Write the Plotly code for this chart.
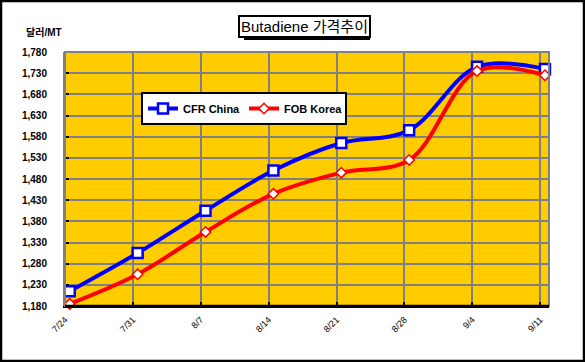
import numpy as np
import plotly.graph_objects as go

dates = ["7/24", "7/31", "8/7", "8/14", "8/21", "8/28", "9/4", "9/11"]
cfr_china = [1215, 1305, 1405, 1500, 1565, 1595, 1745, 1740]
fob_korea = [1185, 1255, 1355, 1445, 1495, 1525, 1735, 1725]
y_ticks = list(range(1180, 1781, 50))

W, H = 585, 362
L, R, T, B = 65, 36, 52, 56
pw, ph = W - L - R, H - T - B

def px_x(p):
    return (p - L) / pw

def px_y(p):
    return (H - B - p) / ph

FONT = "Arial, 'Liberation Sans', 'Noto Sans CJK KR', sans-serif"
idx = np.arange(len(dates))
xpos = idx + 0.07

fig = go.Figure()
fig.add_trace(go.Scatter(
    x=xpos, y=cfr_china, name="CFR China", mode="lines+markers",
    line=dict(color="#0000FF", width=4, shape="spline", smoothing=1.0),
    marker=dict(symbol="square", size=10, color="white",
                line=dict(color="#0000FF", width=2.5)),
    cliponaxis=False,
))
fig.add_trace(go.Scatter(
    x=xpos, y=fob_korea, name="FOB Korea", mode="lines+markers",
    line=dict(color="#FF0000", width=4, shape="spline", smoothing=1.0),
    marker=dict(symbol="diamond", size=8, color="white",
                line=dict(color="#FF0000", width=1.5)),
    cliponaxis=False,
))

fig.update_layout(
    width=W, height=H,
    margin=dict(l=L, r=R, t=T, b=B, autoexpand=False),
    paper_bgcolor="white",
    plot_bgcolor="#FFCC00",
    font=dict(family=FONT, color="black"),
    showlegend=True,
    legend=dict(
        orientation="h", x=px_x(141), y=px_y(92), xanchor="left", yanchor="top",
        bgcolor="white", bordercolor="black", borderwidth=2,
        font=dict(family=FONT, size=11, color="black", weight="bold"),
        itemwidth=30, entrywidth=56, tracegroupgap=0,
    ),
    xaxis=dict(
        range=[0, 7.13], tickmode="array", tickvals=idx, ticktext=dates,
        tickangle=-45, tickfont=dict(size=9, family=FONT),
        ticklabelstandoff=3,
        showgrid=True, gridcolor="#808080", gridwidth=2,
        showline=True, linecolor="black", linewidth=2, mirror=False,
        ticks="inside", ticklen=4, tickcolor="black", tickwidth=2,
        zeroline=False, fixedrange=True, automargin=False,
    ),
    yaxis=dict(
        range=[1180, 1780], tickmode="array", tickvals=y_ticks,
        ticktext=[f"{v:,}" for v in y_ticks],
        tickfont=dict(size=10, family=FONT, weight="bold"),
        ticklabelstandoff=14,
        showgrid=True, gridcolor="#808080", gridwidth=2,
        showline=True, linecolor="#808080", linewidth=2,
        ticks="inside", ticklen=4, tickcolor="black", tickwidth=2,
        zeroline=False, fixedrange=True, automargin=False,
    ),
)

# plot area right/top border
fig.add_shape(type="rect", xref="paper", yref="paper", x0=0, x1=1, y0=0, y1=1,
              line=dict(color="#808080", width=2), layer="above")
fig.add_shape(type="line", xref="paper", yref="paper", x0=0, x1=1, y0=0, y1=0,
              line=dict(color="black", width=2.5), layer="above")
# outer frame
fig.add_shape(type="rect", xref="paper", yref="paper",
              x0=px_x(1), x1=px_x(584), y0=px_y(361), y1=px_y(1),
              line=dict(color="black", width=2.5))
# title shadow
fig.add_shape(type="rect", xref="paper", yref="paper",
              x0=px_x(244), x1=px_x(370), y0=px_y(40), y1=px_y(20),
              fillcolor="black", line=dict(width=0))
fig.add_annotation(
    x=px_x(304), y=px_y(27), xref="paper", yref="paper",
    text="Butadiene 가격추이", showarrow=False,
    font=dict(family=FONT, size=15, color="black"),
    bgcolor="white", bordercolor="black", borderwidth=2, borderpad=1,
    xanchor="center", yanchor="middle",
)
fig.add_annotation(
    x=px_x(24), y=px_y(33), xref="paper", yref="paper",
    text="달러/MT", showarrow=False,
    font=dict(family=FONT, size=10, color="black", weight="bold"),
    xanchor="left", yanchor="middle",
)

fig.write_html(
    "out.html",
    config={"displayModeBar": False, "staticPlot": True},
    post_script="document.body.style.margin='0';document.body.style.overflow='hidden';",
)
